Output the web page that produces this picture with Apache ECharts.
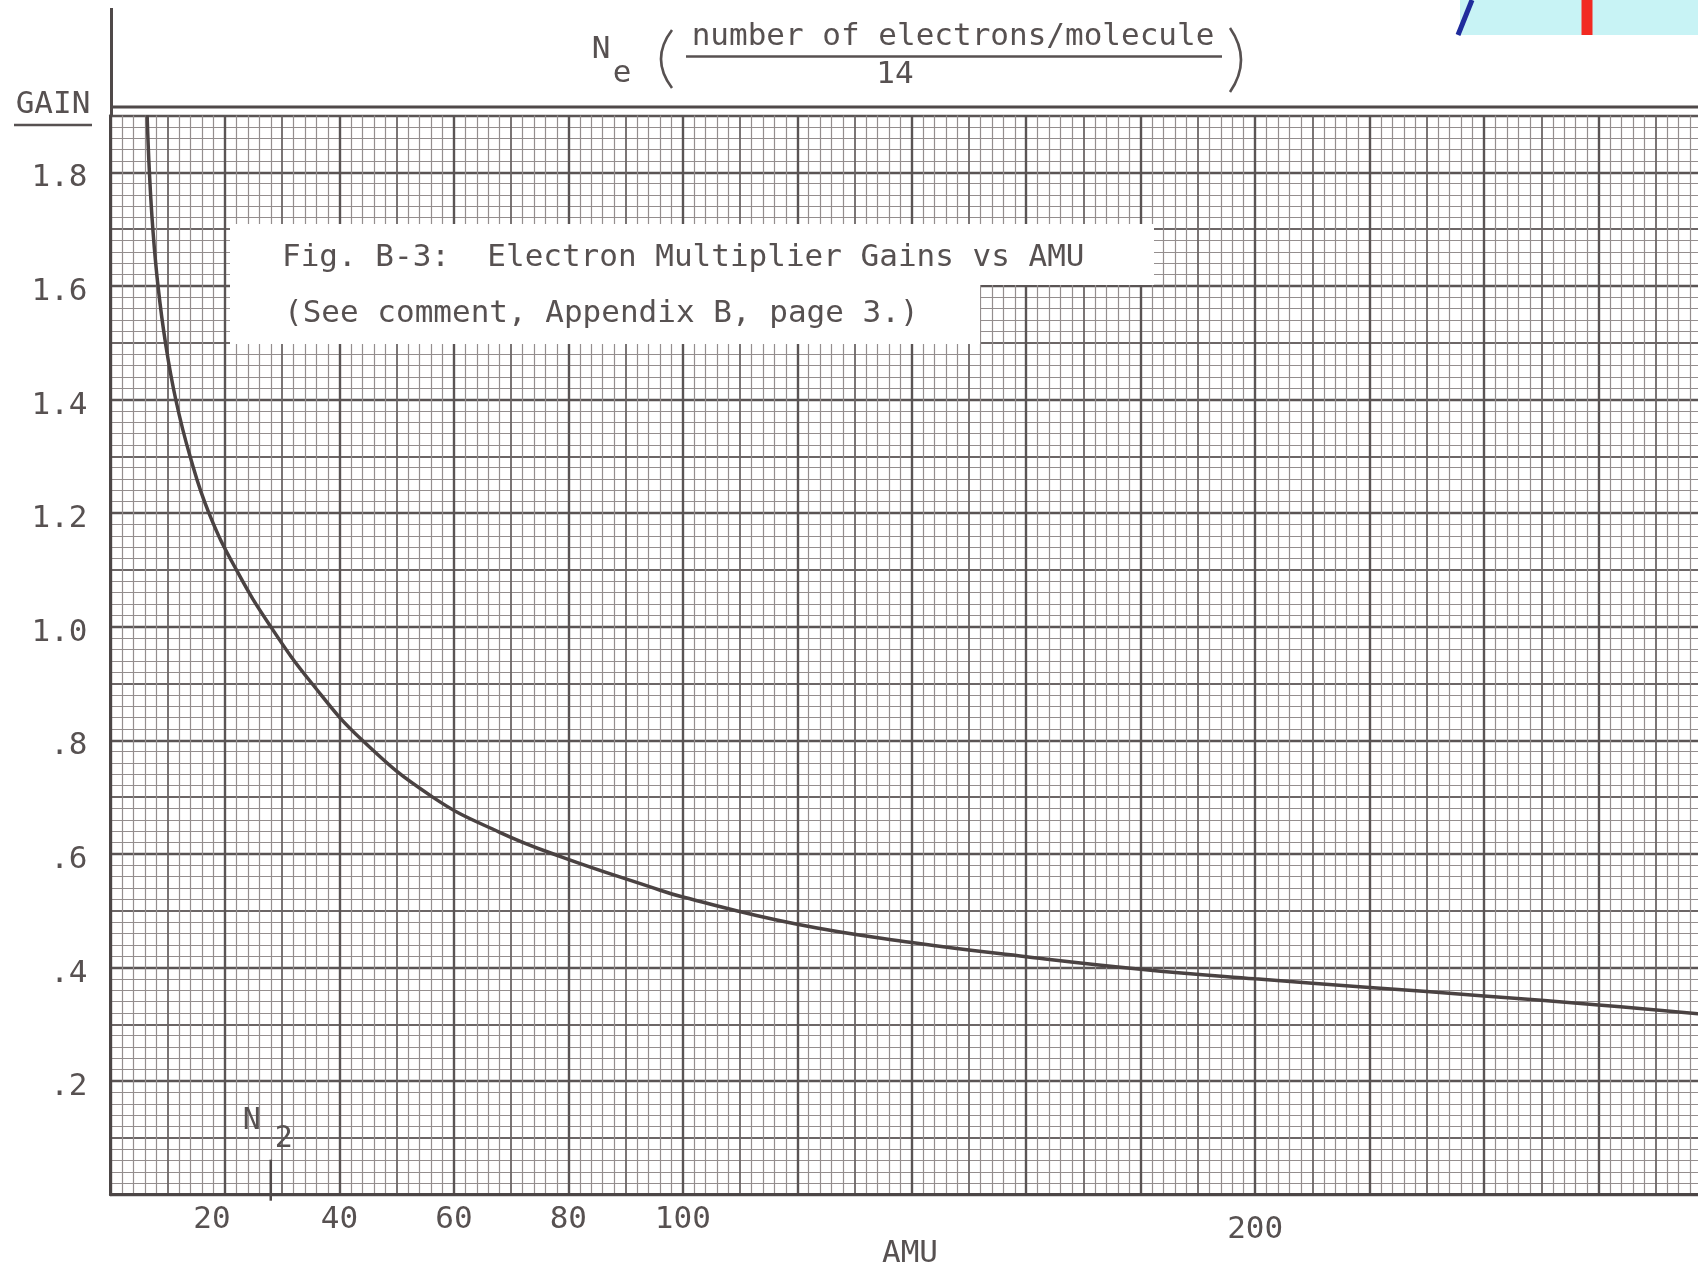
<!DOCTYPE html>
<html>
<head>
<meta charset="utf-8">
<title>Fig. B-3 Electron Multiplier Gains vs AMU</title>
<script src="https://cdn.jsdelivr.net/npm/echarts@6/dist/echarts.min.js"></script>
<style>
html, body { margin: 0; padding: 0; background: #fff; }
#gain { width: 1698px; height: 1273px; }
</style>
</head>
<body>
<div id="gain"></div>
<script>
// curve
var amu  = [6.4, 6.8, 7.4, 8.3, 9.6, 11.4, 13.9, 17.2, 22.0, 28.0, 35.2, 44.0, 56.3, 68.0, 79.0, 94.3, 100, 120, 140, 160, 180, 200, 220, 240, 260, 278];
var gain = [1.90, 1.80, 1.70, 1.60, 1.50, 1.40, 1.30, 1.20, 1.10, 1.00, 0.90, 0.80, 0.70, 0.638, 0.594, 0.542, 0.524, 0.476, 0.444, 0.419, 0.397, 0.380, 0.365, 0.350, 0.334, 0.318];

var xTickValues = [20, 40, 60, 80, 100, 200];
var yTickValues = [0.2, 0.4, 0.6, 0.8, 1.0, 1.2, 1.4, 1.6, 1.8];
var yTickLabels = ['.2', '.4', '.6', '.8', '1.0', '1.2', '1.4', '1.6', '1.8'];
var n2Amu = 28;

var mono = '"DejaVu Sans Mono", monospace';
var ink = '#575151';

function tickIndex(list, v) {
    for (var i = 0; i < list.length; i++) {
        if (Math.abs(list[i] - v) < 1e-6) return i;
    }
    return -1;
}

var points = [];
for (var k = 0; k < amu.length; k++) {
    points.push([amu[k], gain[k]]);
}

var chart = echarts.init(document.getElementById('gain'));
var option = {
    animation: false,
    backgroundColor: '#fff',
    grid: { left: 110.5, top: 115.5, right: -15, bottom: 78.3, containLabel: false, outerBoundsMode: 'none' },
    xAxis: [
        {
            // 10 AMU lines + 2 AMU paper lines
            type: 'value', position: 'top', min: 0, max: 280, interval: 10,
            axisLine: { show: false }, axisTick: { show: false }, axisLabel: { show: false },
            splitLine: { show: true, lineStyle: { color: '#6c6666', width: 1.8 } },
            minorTick: { show: false, splitNumber: 5 },
            minorSplitLine: { show: true, lineStyle: { color: '#948e8e', width: 1.2 } }
        },
        {
            type: 'value', position: 'bottom', min: 0, max: 280, interval: 20,
            axisLine: { show: true, onZero: false, lineStyle: { color: '#4c4646', width: 3 } },
            axisTick: { show: false },
            axisLabel: {
                margin: 10,
                fontFamily: mono, fontSize: 31, color: ink,
                formatter: function (v) {
                    if (tickIndex(xTickValues, v) < 0) return '';
                    if (v === 20) return '{s|20}';
                    if (v === 200) return '{d|200}';
                    return String(v);
                },
                rich: {
                    s: { fontFamily: mono, fontSize: 31, color: ink, padding: [0, 26, 0, 0] },
                    d: { fontFamily: mono, fontSize: 31, color: ink, padding: [10, 0, 0, 0] }
                }
            },
            splitLine: { show: true, lineStyle: { color: '#5a5454', width: 2.4 } }
        }
    ],
    yAxis: [
        {
            type: 'value', position: 'right', min: 0, max: 1.9, interval: 0.1,
            axisLine: { show: false }, axisTick: { show: false }, axisLabel: { show: false },
            splitLine: { show: true, lineStyle: { color: '#6c6666', width: 1.8 } },
            minorTick: { show: false, splitNumber: 5 },
            minorSplitLine: { show: true, lineStyle: { color: '#948e8e', width: 1.2 } }
        },
        {
            type: 'value', position: 'left', min: 0, max: 1.9, interval: 0.2,
            axisLine: { show: true, onZero: false, lineStyle: { color: '#4c4646', width: 3 } },
            axisTick: { show: false },
            axisLabel: {
                margin: 23,
                fontFamily: mono, fontSize: 31, color: ink,
                formatter: function (v) {
                    var i = tickIndex(yTickValues, v);
                    return i < 0 ? '' : '{g|' + yTickLabels[i] + '}';
                },
                rich: { g: { fontFamily: mono, fontSize: 31, color: ink, padding: [12, 0, 0, 0] } }
            },
            splitLine: { show: true, lineStyle: { color: '#5a5454', width: 2.4 } }
        }
    ],
    series: [
        {
            name: 'Gain',
            type: 'line',
            xAxisIndex: 1,
            yAxisIndex: 1,
            data: points,
            showSymbol: false,
            smooth: 0.45,
            z: 5,
            lineStyle: { color: '#4a4242', width: 3.5 }
        }
    ]
};
chart.setOption(option);

function txt(s, x, y, size, align) {
    return {
        type: 'text', z: 100,
        style: {
            text: s, x: x, y: y,
            font: size + 'px ' + mono,
            fill: ink,
            align: align, verticalAlign: 'middle',
            textAlign: align, textVerticalAlign: 'middle'
        }
    };
}
function seg(x1, y1, x2, y2, w, c) {
    return { type: 'line', z: 100, shape: { x1: x1, y1: y1, x2: x2, y2: y2 },
             style: { stroke: c || '#4f4949', lineWidth: w } };
}
function paren(x, y1, y2, bulge) {
    return { type: 'bezierCurve', z: 100,
             shape: { x1: x, y1: y1, x2: x, y2: y2, cpx1: x + bulge, cpy1: (y1 + y2) / 2 },
             style: { stroke: ink, lineWidth: 2.6, fill: null } };
}

var nx = chart.convertToPixel({ xAxisIndex: 1 }, n2Amu);
var y0 = chart.convertToPixel({ yAxisIndex: 1 }, 0);

chart.setOption({
    graphic: [
        // top double rule and left rule above the paper
        seg(110, 107, 1698, 107, 3),
        seg(111.5, 8, 111.5, 116, 3),
        // GAIN
        txt('GAIN', 53, 105, 31, 'center'),
        seg(14, 125, 92, 125, 2.5, ink),
        // Ne (number of electrons/molecule / 14)
        txt('N', 601, 50, 31, 'center'),
        txt('e', 622, 74, 31, 'center'),
        paren(672, 30, 88, -22),
        txt('number of electrons/molecule', 953, 37, 31, 'center'),
        seg(686, 56.5, 1222, 56.5, 2.5, ink),
        txt('14', 895, 75, 31, 'center'),
        paren(1230, 28, 92, 22),
        // caption boxes
        { type: 'rect', z: 99, shape: { x: 230, y: 224, width: 924, height: 61 }, style: { fill: '#fff' } },
        { type: 'rect', z: 99, shape: { x: 230, y: 285, width: 750, height: 59 }, style: { fill: '#fff' } },
        txt('Fig. B-3:  Electron Multiplier Gains vs AMU', 282, 258, 31, 'left'),
        txt('(See comment, Appendix B, page 3.)', 284, 314, 31, 'left'),
        // x title
        txt('AMU', 910, 1254, 31, 'center'),
        // N2 marker
        seg(nx, y0 - 35, nx, y0 + 6, 2.5),
        txt('N', nx - 19, y0 - 73, 30, 'center'),
        txt('2', nx + 13, y0 - 55, 30, 'center'),
        // scrap of another figure in the corner
        { type: 'rect', z: 99, shape: { x: 1460, y: 0, width: 238, height: 35 }, style: { fill: '#c8f3f5' } },
        seg(1458, 35, 1472, 0, 5, '#1f2c9c'),
        seg(1587, 0, 1587, 35, 11, '#f22a22')
    ]
});
</script>
</body>
</html>
